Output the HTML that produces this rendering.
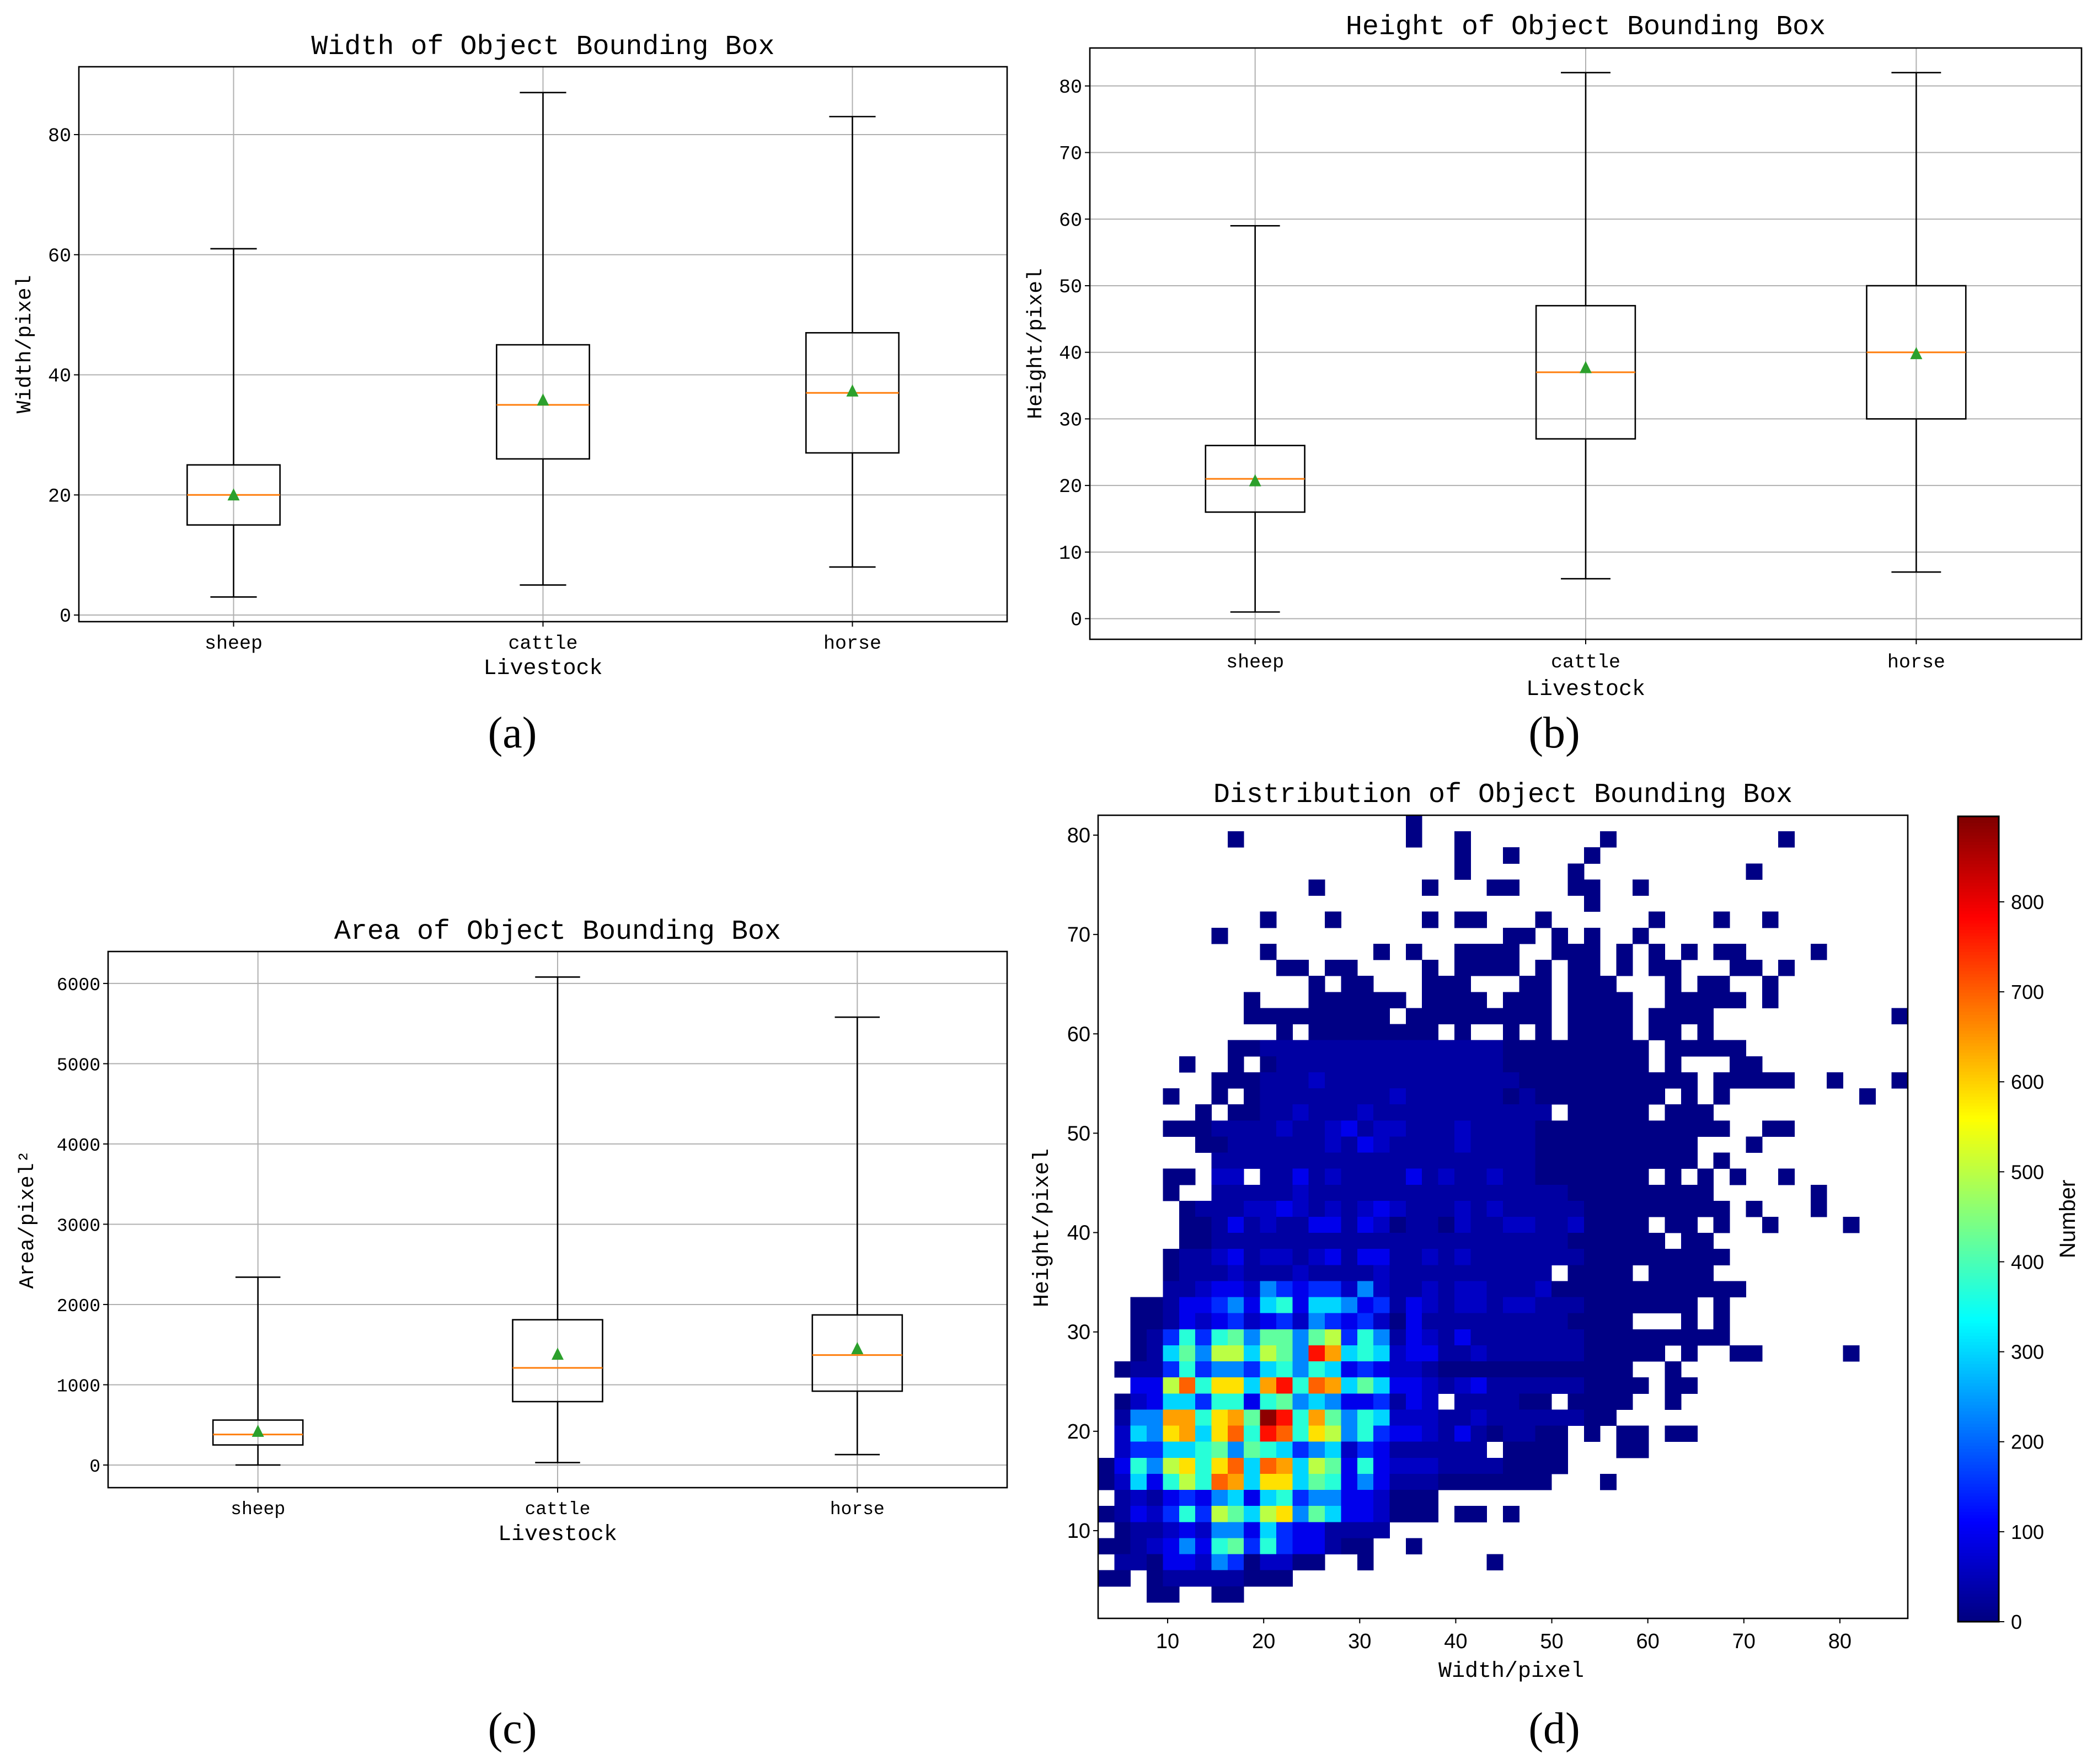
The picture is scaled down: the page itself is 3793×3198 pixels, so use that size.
<!DOCTYPE html>
<html><head><meta charset="utf-8"><title>Object Bounding Box Statistics</title>
<style>
html,body{margin:0;padding:0;background:#fff;}
svg{display:block;}
text{font-family:"Liberation Mono","WenQuanYi Zen Hei",monospace;fill:#000;}
</style></head>
<body>
<svg id="fig" xmlns="http://www.w3.org/2000/svg" width="3793" height="3198" viewBox="0 0 3793 3198"></svg>
<script>
// ===== Panel (a) data: width =====
const boxCats = ['sheep','cattle','horse'];
const widthLo = [3, 5, 8];
const widthQ1 = [15, 26, 27];
const widthMed = [20, 35, 37];
const widthQ3 = [25, 45, 47];
const widthHi = [61, 87, 83];
const widthMean = [20, 35.8, 37.3];
const widthTicks = [0, 20, 40, 60, 80];
// ===== Panel (b) data: height =====
const heightLo = [1, 6, 7];
const heightQ1 = [16, 27, 30];
const heightMed = [21, 37, 40];
const heightQ3 = [26, 47, 50];
const heightHi = [59, 82, 82];
const heightMean = [20.7, 37.7, 39.8];
const heightTicks = [0, 10, 20, 30, 40, 50, 60, 70, 80];
// ===== Panel (c) data: area =====
const areaLo = [0, 30, 130];
const areaQ1 = [250, 790, 920];
const areaMed = [380, 1210, 1370];
const areaQ3 = [560, 1810, 1870];
const areaHi = [2340, 6080, 5580];
const areaMean = [420, 1380, 1450];
const areaTicks = [0, 1000, 2000, 3000, 4000, 5000, 6000];
// ===== Panel (d) data: 2D histogram (rows top = highest height bin) =====
const hmXRange = [2.76, 87.07];
const hmYRange = [1.17, 82.0];
const hmBins = 50;
const hmLevelCodes = '123456789ABCDEF';
const hmLevelCounts = [5, 30, 60, 95, 150, 230, 300, 370, 420, 500, 586, 643, 698, 770, 882];
const hmRows = [
"...................1..............................",
"........1.........." + "1..1......" + "..1......." + "...1......",
"......................1..1....1...................",
"......................1......1..........1.........",
".............1......1...11...11..1................",
"..............................1...................",
"..........1...1.....1.11...1......1...1..1........",
".......1.................11.1.1..1................",
"..........1......1.1..1111..111.1.1.1.11....1.....",
"...........11.11....1.1111.1.11.1.11...11.1.......",
".............1.11...111...11.111...1.11..1........",
".........1...111111.1111.111.1111..11111.1........",
".........111111111.111111111.1111.1111...........1",
"...........1.1111111" + "1.1..1.1.1" + "111.11.1.." + "..........",
"........112222222222" + "2222211111" + "1111.11111" + "..........",
".....1..1.1222222222" + "2222211111" + "1111.1...1" + "1.........",
".......1112223222222" + "2222221111" + "1111111.11" + "111..1...1",
"....1..1.12222222232" + "2222212111" + "11111.1.1." + ".......1..",
"......1.112232223222" + "22222222.1" + "1111.111.." + "..........",
"....1112222322342332" + "2232222111" + "111111111." + ".11.......",
"......11222222324322" + "2232222111" + "1111111..." + "1.........",
".......2222222222222" + "2222222111" + "1111111.1." + "..........",
"....11.33.2242322224" + "2322322111" + "1111.1.1.1" + "..1.......",
"....1..2222232222222" + "2222222221" + "11111111.." + "....1.....",
".....122233432323432" + "2232322222" + "111111111." + "1...1.....",
".....112423224424312" + "2132233223" + "1111.11.1." + ".1....1...",
".....112222222222222" + "2222222221" + "11111.11.." + "..........",
"....1223423323424422" + "3232222222" + "111111111." + "..........",
"....1222322232222322" + "22222222.1" + "111.1111.." + "..........",
"....2234436545536322" + "3233222311" + "1111111111" + "..........",
"..112445647847764524" + "3233233222" + "1111111.1." + "..........",
"..112434534536545314" + "2222222221" + "111...1.1." + "..........",
"..125858969969A58624" + "3242222222" + "111111111." + "..........",
"..12796AA7A96EC78734" + "4223222222" + "11111.1..1" + "1.....1...",
".1225856657868745433" + "2111111111" + "111..1...." + "..........",
"..44AD8BB7CE8DC79744" + "3234222222" + "1111.11..." + "..........",
".1347758848967644524" + "3.222211.1" + "111..1...." + "..........",
".266CC8BC9FE8C968733" + "3223222222" + "11........" + "..........",
".376BC7BD8ED8BA68544" + "324212211." + "1.11.11..." + "..........",
".3557789698756735422" + "2222.1111." + "..11......" + "..........",
"1486AB8BD7DC7A948433" + "322221111." + ".........." + "..........",
"13748A8DC7BB79846422" + "21111111.." + ".1........" + "..........",
".2324546747856644311" + "1........." + ".........." + "..........",
"1243585A97AB69744311" + "1.11.1...." + ".........." + "..........",
".12234366475442222.." + ".........." + ".........." + "..........",
"11234648958544211..1" + ".........." + ".........." + "..........",
".2214436513311..1..." + "....1....." + ".........." + "..........",
"11.122222111........" + ".........." + ".........." + "..........",
"...11..11........................................." ,
".................................................."
];
const cbTicks = [0, 100, 200, 300, 400, 500, 600, 700, 800];
const cbMax = 895;
const hmXTicks = [10, 20, 30, 40, 50, 60, 70, 80];
const hmYTicks = [10, 20, 30, 40, 50, 60, 70, 80];

const NS = 'http://www.w3.org/2000/svg';
const svg = document.getElementById('fig');
function mk(tag, attrs, parent) {
  const e = document.createElementNS(NS, tag);
  for (const k in attrs) e.setAttribute(k, attrs[k]);
  (parent || svg).appendChild(e);
  return e;
}
function txt(s, x, y, size, anchor, parent, extra) {
  const t = mk('text', Object.assign({x: x, y: y, 'font-size': size, 'text-anchor': anchor || 'middle'}, extra || {}), parent);
  t.textContent = s;
  return t;
}

function boxPanel(p) {
  const g = mk('g', {});
  
  
  const n = p.cats.length;
  const W = p.x1 - p.x0;
  const sx = i => p.x0 + (i + 0.5) / n * W;
  const sy = v => p.y1 - (v - p.ymin) / (p.ymax - p.ymin) * (p.y1 - p.y0);
  const unit = W / n;
  p.ticks.forEach(t => {
    const l = mk('line', {x1: p.x0, x2: p.x1, y1: sy(t), y2: sy(t), stroke: '#b0b0b0', 'stroke-width': 2}, g);
    
    
    const tk = mk('line', {x1: p.x0 - 9, x2: p.x0, y1: sy(t), y2: sy(t), stroke: '#000', 'stroke-width': 2}, g);
    
    
    const lb = txt(String(t), p.x0 - 14, sy(t) + 12, p.tickSize, 'end', g);
    
    
  });
  p.cats.forEach((c, i) => {
    const l = mk('line', {x1: sx(i), x2: sx(i), y1: p.y0, y2: p.y1, stroke: '#b0b0b0', 'stroke-width': 2}, g);
    
    
    const tk = mk('line', {x1: sx(i), x2: sx(i), y1: p.y1, y2: p.y1 + 9, stroke: '#000', 'stroke-width': 2}, g);
    
    
    const lb = txt(c, sx(i), p.xLabY, p.tickSize, 'middle', g);
    
    
  });
  p.cats.forEach((c, i) => {
    const bw = unit * 0.3, cw = unit * 0.15, x = sx(i);
    const bg = mk('g', {stroke: '#000', 'stroke-width': 2.6, fill: 'none'}, g);
    
    
    mk('line', {x1: x, x2: x, y1: sy(p.lo[i]), y2: sy(p.q1[i])}, bg);
    mk('line', {x1: x, x2: x, y1: sy(p.q3[i]), y2: sy(p.hi[i])}, bg);
    mk('line', {x1: x - cw / 2, x2: x + cw / 2, y1: sy(p.lo[i]), y2: sy(p.lo[i])}, bg);
    mk('line', {x1: x - cw / 2, x2: x + cw / 2, y1: sy(p.hi[i]), y2: sy(p.hi[i])}, bg);
    mk('rect', {x: x - bw / 2, y: sy(p.q3[i]), width: bw, height: sy(p.q1[i]) - sy(p.q3[i])}, bg);
    const md = mk('line', {x1: x - bw / 2, x2: x + bw / 2, y1: sy(p.med[i]), y2: sy(p.med[i]), stroke: '#ff7f0e', 'stroke-width': 3}, g);
    
    
    const my = sy(p.mean[i]);
    const tri = mk('polygon', {points: `${x},${my - 12} ${x - 11},${my + 10} ${x + 11},${my + 10}`, fill: '#2ca02c'}, g);
    
    
  });
  const fr = mk('rect', {x: p.x0, y: p.y0, width: W, height: p.y1 - p.y0, fill: 'none', stroke: '#000', 'stroke-width': 2.6}, g);
  
  
  const tt = txt(p.title, (p.x0 + p.x1) / 2, p.titleY, 50, 'middle', g);
  
  
  const xl = txt('Livestock', (p.x0 + p.x1) / 2, p.xTitleY, 40, 'middle', g);
  
  
  const yl = txt(p.ylabel, 0, 0, 38, 'middle', g, {transform: `translate(${p.yTitleX},${(p.y0 + p.y1) / 2}) rotate(-90)`});
  
  
  const pl = txt(p.panel, p.panelX, 1355 + p.panelDY, 80, 'middle', g, {style: 'font-family:"Liberation Serif",serif;font-weight:normal'});
  
  
}

boxPanel({name: 'width-boxplot', panel: '(a)', panelX: 929, panelDY: 0, x0: 143, x1: 1826, y0: 121, y1: 1127, ymin: -1.1, ymax: 91.3,
  cats: boxCats, lo: widthLo, q1: widthQ1, med: widthMed, q3: widthQ3, hi: widthHi, mean: widthMean, ticks: widthTicks,
  tickSize: 35, xLabY: 1176, xTitleY: 1222, yTitleX: 55, titleY: 98, title: 'Width of Object Bounding Box', ylabel: 'Width/pixel'});
boxPanel({name: 'height-boxplot', panel: '(b)', panelX: 2818, panelDY: 0, x0: 1976, x1: 3774, y0: 87, y1: 1159, ymin: -3.1, ymax: 85.7,
  cats: boxCats, lo: heightLo, q1: heightQ1, med: heightMed, q3: heightQ3, hi: heightHi, mean: heightMean, ticks: heightTicks,
  tickSize: 35, xLabY: 1210, xTitleY: 1260, yTitleX: 1888, titleY: 62, title: 'Height of Object Bounding Box', ylabel: 'Height/pixel'});
boxPanel({name: 'area-boxplot', panel: '(c)', panelX: 929, panelDY: 1805, x0: 196, x1: 1826, y0: 1725, y1: 2697, ymin: -282, ymax: 6398,
  cats: boxCats, lo: areaLo, q1: areaQ1, med: areaMed, q3: areaQ3, hi: areaHi, mean: areaMean, ticks: areaTicks,
  tickSize: 33, xLabY: 2745, xTitleY: 2792, yTitleX: 60, titleY: 1702, title: 'Area of Object Bounding Box', ylabel: 'Area/pixel²'});

function jet(v) {
  const c = x => Math.max(0, Math.min(1, x));
  const r = c(1.5 - Math.abs(4 * v - 3)), g = c(1.5 - Math.abs(4 * v - 2)), b = c(1.5 - Math.abs(4 * v - 1));
  return `rgb(${Math.round(r * 255)},${Math.round(g * 255)},${Math.round(b * 255)})`;
}
(function () {
  const X0 = 1991, X1 = 3459, Y0 = 1478, Y1 = 2934;
  const sx = v => X0 + (v - hmXRange[0]) / (hmXRange[1] - hmXRange[0]) * (X1 - X0);
  const sy = v => Y1 - (v - hmYRange[0]) / (hmYRange[1] - hmYRange[0]) * (Y1 - Y0);
  const g = mk('g', {});
  
  
  const dx = (hmXRange[1] - hmXRange[0]) / hmBins, dy = (hmYRange[1] - hmYRange[0]) / hmBins;
  const cells = mk('g', {'shape-rendering': 'crispEdges'}, g);
  
  
  hmRows.forEach((row, r) => {
    const yi = hmBins - 1 - r;
    const s = row.padEnd(hmBins, '.');
    for (let ci = 0; ci < hmBins; ci++) {
      const k = hmLevelCodes.indexOf(s[ci]);
      if (k < 0) continue;
      const cnt = hmLevelCounts[k];
      const xa = sx(hmXRange[0] + ci * dx), xb = sx(hmXRange[0] + (ci + 1) * dx);
      const ya = sy(hmYRange[0] + (yi + 1) * dy), yb = sy(hmYRange[0] + yi * dy);
      const rc = mk('rect', {x: xa, y: ya, width: xb - xa + 0.5, height: yb - ya + 0.5, fill: jet(cnt / cbMax)}, cells);
      
      
    }
  });
  const fr = mk('rect', {x: X0, y: Y0, width: X1 - X0, height: Y1 - Y0, fill: 'none', stroke: '#000', 'stroke-width': 2.6}, g);
  
  
  hmXTicks.forEach(t => {
    const tk = mk('line', {x1: sx(t), x2: sx(t), y1: Y1, y2: Y1 + 9, stroke: '#000', 'stroke-width': 2}, g);
    
    
    const lb = txt(String(t), sx(t), 2988, 38, 'middle', g, {style: 'font-family:"Liberation Sans",sans-serif'});
    
    
  });
  hmYTicks.forEach(t => {
    const tk = mk('line', {x1: X0 - 9, x2: X0, y1: sy(t), y2: sy(t), stroke: '#000', 'stroke-width': 2}, g);
    
    
    const lb = txt(String(t), X0 - 14, sy(t) + 13, 38, 'end', g, {style: 'font-family:"Liberation Sans",sans-serif'});
    
    
  });
  const tt = txt('Distribution of Object Bounding Box', (X0 + X1) / 2, 1454, 50, 'middle', g);
  
  
  const xl = txt('Width/pixel', (X0 + X1) / 2 + 15, 3040, 40, 'middle', g);
  
  
  const yl = txt('Height/pixel', 0, 0, 40, 'middle', g, {transform: `translate(1900,2226) rotate(-90)`});
  
  
  const CX0 = 3550, CX1 = 3624, CY0 = 1480, CY1 = 2940;
  const cs = v => CY1 - v / cbMax * (CY1 - CY0);
  const cb = mk('g', {'shape-rendering': 'crispEdges'}, g);
  
  
  const N = 256;
  for (let i = 0; i < N; i++) {
    const a = i / N * cbMax, b = (i + 1) / N * cbMax;
    mk('rect', {x: CX0, y: cs(b), width: CX1 - CX0, height: cs(a) - cs(b) + 0.8, fill: jet((a + b) / 2 / cbMax)}, cb);
  }
  mk('rect', {x: CX0, y: CY0, width: CX1 - CX0, height: CY1 - CY0, fill: 'none', stroke: '#000', 'stroke-width': 2.6}, cb);
  cbTicks.forEach(t => {
    const tk = mk('line', {x1: CX1, x2: CX1 + 10, y1: cs(t), y2: cs(t), stroke: '#000', 'stroke-width': 2}, g);
    
    
    const lb = txt(String(t), CX1 + 22, cs(t) + 13, 36, 'start', g, {style: 'font-family:"Liberation Sans",sans-serif'});
    
    
  });
  const cl = txt('Number', 0, 0, 40, 'middle', g, {transform: `translate(3762,2210) rotate(-90)`, style: 'font-family:"Liberation Sans",sans-serif'});
  
  
  const pl = txt('(d)', 2818, 3160, 80, 'middle', g, {style: 'font-family:"Liberation Serif",serif;font-weight:normal'});
  
  
})();
</script>
</body></html>
